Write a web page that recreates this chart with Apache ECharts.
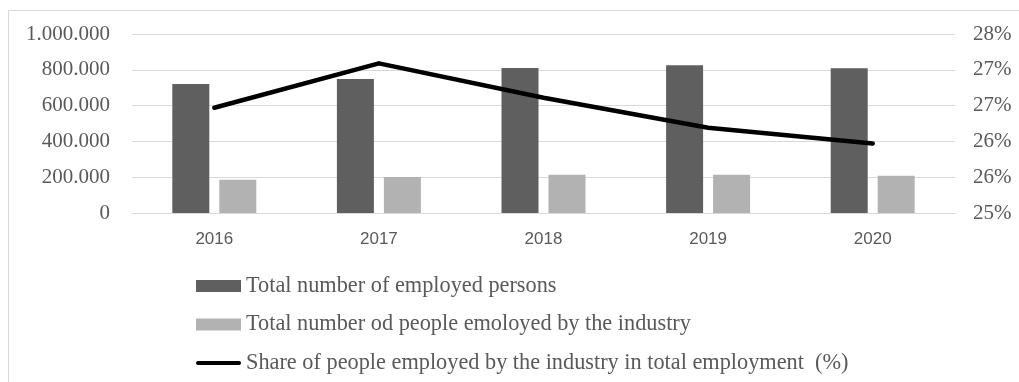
<!DOCTYPE html>
<html>
<head>
<meta charset="utf-8">
<script src="https://cdn.jsdelivr.net/npm/echarts@6/dist/echarts.min.js"></script>
<style>html,body{margin:0;padding:0;background:#fff;}#c{width:1019px;height:382px;}</style>
</head>
<body>
<div id="c"></div>
<script>
const years = ['2016', '2017', '2018', '2019', '2020'];
const totalEmployed = [721000, 749000, 810000, 825000, 808000];
const industryEmployed = [186000, 201000, 214000, 214000, 208000];
const sharePercent = [26.47, 27.09, 26.61, 26.19, 25.97];
const seriesNames = [
  'Total number of employed persons',
  'Total number od people emoloyed by the industry',
  'Share of people employed by the industry in total employment  (%)'
];

function dots(v) {
  return String(Math.round(v)).replace(/\B(?=(\d{3})+(?!\d))/g, '.');
}

const chart = echarts.init(document.getElementById('c'), null, {renderer: 'canvas'});
const serif = 'Liberation Serif';
const gray = '#595959';
chart.setOption({
  animation: false,
  backgroundColor: '#fff',
  graphic: [{
    type: 'rect',
    shape: {x: 8.5, y: 10.5, width: 1200, height: 500},
    style: {fill: 'none', stroke: '#d9d9d9', lineWidth: 1},
    silent: true
  }],
  grid: {left: 132, right: 64, top: 34, bottom: 169, containLabel: false},
  legend: {
    orient: 'vertical',
    left: 196,
    top: 275,
    height: 107,
    padding: 0,
    itemWidth: 45,
    itemHeight: 12,
    itemGap: 16.5,
    textStyle: {fontFamily: serif, fontSize: 22.3, color: gray},
    data: [
      {name: seriesNames[0], icon: 'rect'},
      {name: seriesNames[1], icon: 'rect'},
      {name: seriesNames[2], icon: 'path://M2,0 L43,0 A2,2 0 0 1 43,4 L2,4 A2,2 0 0 1 2,0 Z'}
    ]
  },
  xAxis: {
    type: 'category',
    data: years,
    boundaryGap: true,
    axisLine: {lineStyle: {color: '#d9d9d9', width: 1}},
    axisTick: {show: false},
    axisLabel: {fontFamily: 'Liberation Sans', fontSize: 17, color: gray, margin: 18}
  },
  yAxis: [{
    type: 'value',
    min: 0,
    max: 1000000,
    interval: 200000,
    axisLine: {show: false},
    axisTick: {show: false},
    splitLine: {lineStyle: {color: '#d9d9d9', width: 1}},
    axisLabel: {fontFamily: serif, fontSize: 21, color: gray, margin: 22, formatter: dots}
  }, {
    type: 'value',
    min: 25,
    max: 27.5,
    interval: 0.5,
    axisLine: {show: false},
    axisTick: {show: false},
    splitLine: {show: false},
    axisLabel: {fontFamily: serif, fontSize: 21, color: gray, margin: 18,
      formatter: v => Math.round(v) + '%'}
  }],
  series: [{
    name: seriesNames[0],
    type: 'bar',
    data: totalEmployed,
    barWidth: 37,
    barGap: '27%',
    itemStyle: {color: '#5f5f5f'}
  }, {
    name: seriesNames[1],
    type: 'bar',
    data: industryEmployed,
    barWidth: 37,
    barGap: '27%',
    itemStyle: {color: '#b2b2b2'}
  }, {
    name: seriesNames[2],
    type: 'line',
    yAxisIndex: 1,
    data: sharePercent,
    symbol: 'none',
    smooth: false,
    lineStyle: {color: '#000', width: 4.5, cap: 'round', join: 'round'},
    itemStyle: {color: '#000'},
    z: 5
  }]
});
</script>
</body>
</html>
